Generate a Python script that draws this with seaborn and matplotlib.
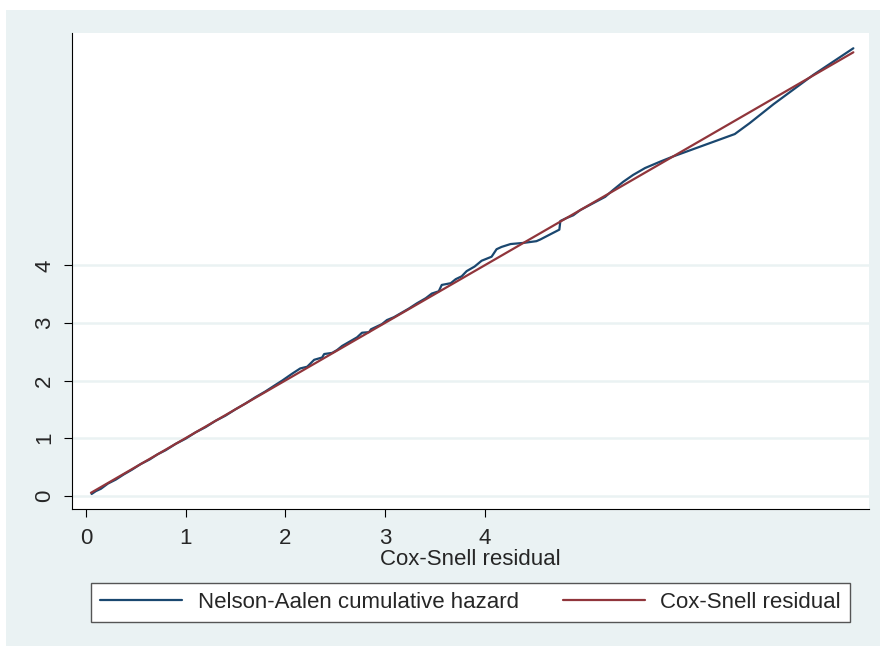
import matplotlib
matplotlib.use("Agg")
import matplotlib.pyplot as plt
import pandas as pd
import seaborn as sns
from matplotlib.patches import Rectangle

# Nelson-Aalen cumulative hazard
na_x = [0.057, 0.10, 0.15, 0.22, 0.30, 0.38, 0.46, 0.55, 0.64, 0.72,
        0.80, 0.90, 1.00, 1.10, 1.20, 1.30, 1.40, 1.50, 1.60, 1.70,
        1.80, 1.88, 1.97, 2.07, 2.15, 2.22, 2.29, 2.37, 2.39, 2.47,
        2.52, 2.57, 2.65, 2.72, 2.77, 2.84, 2.86, 2.97, 3.02, 3.09,
        3.15, 3.24, 3.32, 3.41, 3.47, 3.54, 3.57, 3.66, 3.71, 3.77,
        3.82, 3.90, 3.97, 4.07, 4.12, 4.17, 4.26, 4.39, 4.52, 4.56,
        4.66, 4.75, 4.76, 4.82, 4.89, 4.96, 5.09, 5.21, 5.29, 5.39,
        5.49, 5.61, 5.76, 5.89, 6.16, 6.51, 6.66, 6.90, 7.30, 7.70]
na_y = [0.03, 0.08, 0.12, 0.21, 0.28, 0.37, 0.45, 0.55, 0.63, 0.72,
        0.79, 0.90, 0.99, 1.10, 1.19, 1.30, 1.39, 1.50, 1.60, 1.71,
        1.81, 1.90, 2.00, 2.12, 2.21, 2.24, 2.36, 2.40, 2.46, 2.48,
        2.53, 2.60, 2.68, 2.75, 2.83, 2.84, 2.89, 2.98, 3.05, 3.10,
        3.16, 3.25, 3.34, 3.43, 3.51, 3.55, 3.66, 3.69, 3.76, 3.81,
        3.90, 3.98, 4.08, 4.15, 4.28, 4.32, 4.37, 4.39, 4.42, 4.45,
        4.54, 4.62, 4.77, 4.82, 4.87, 4.96, 5.08, 5.19, 5.31, 5.45,
        5.57, 5.69, 5.80, 5.89, 6.06, 6.28, 6.47, 6.80, 7.31, 7.77]

# Cox-Snell residual reference line (45 degrees)
cs_x = [0.05, 7.70]
cs_y = [0.05, 7.70]

tick_vals = [0, 1, 2, 3, 4]
labels = ["Nelson-Aalen cumulative hazard", "Cox-Snell residual"]

na = pd.DataFrame({"x": na_x, "y": na_y})
cs = pd.DataFrame({"x": cs_x, "y": cs_y})

sns.set_style("white")
plt.rcParams['font.family'] = ['Liberation Sans', 'DejaVu Sans']

fig = plt.figure(figsize=(8.8, 6.46), dpi=100)
fig.patch.set_facecolor("white")
fig.add_artist(Rectangle((6 / 880, 0), 1, 636 / 646, transform=fig.transFigure,
                         facecolor="#EAF2F3", edgecolor="none", zorder=0))

ax = fig.add_axes([72 / 880, 137 / 646, 797 / 880, 476 / 646])
ax.set_facecolor("white")

sns.lineplot(data=na, x="x", y="y", ax=ax, color="#1A476F", lw=1.6,
             estimator=None, label=labels[0])
sns.lineplot(data=cs, x="x", y="y", ax=ax, color="#90353B", lw=1.6,
             estimator=None, label=labels[1])

ax.set_xlim(-0.14, 7.857)
ax.set_ylim(-0.231, 8.035)
ax.set_xticks(tick_vals)
ax.set_yticks(tick_vals)
ax.yaxis.grid(True, color="#EAF2F3", lw=1.8)
ax.xaxis.grid(False)
ax.set_axisbelow(True)

for s in ["top", "right"]:
    ax.spines[s].set_visible(False)
for s in ["left", "bottom"]:
    ax.spines[s].set_color("black")
    ax.spines[s].set_linewidth(0.8)

ax.tick_params(bottom=True, left=True, direction="out", length=6, width=0.8,
               color="black", labelsize=16, pad=6)
ax.tick_params(axis="x", pad=8)
plt.setp(ax.get_yticklabels(), rotation=90, va="center")

ax.set_xlabel("Cox-Snell residual", fontsize=16, labelpad=0)
ax.set_ylabel("")

handles, _ = ax.get_legend_handles_labels()
ax.get_legend().remove()
leg = fig.legend(handles, labels, loc="center",
                 bbox_to_anchor=(91 / 880, 22 / 646, 759 / 880, 43 / 646),
                 mode="expand", ncol=2, frameon=True, fancybox=False,
                 edgecolor="#555555", framealpha=1, fontsize=16,
                 handlelength=3.7, handletextpad=0.7, borderaxespad=0)
leg.get_frame().set_linewidth(1.0)

fig.savefig("out.png", dpi=100)
